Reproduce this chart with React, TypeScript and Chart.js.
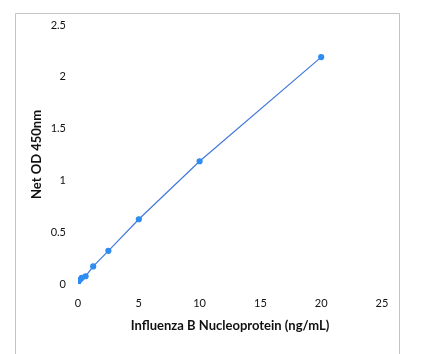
import React, { useEffect, useRef } from "react";
import { Chart, registerables } from "chart.js";

Chart.register(...registerables);

const concentrations = [0, 0.156, 0.3125, 0.625, 1.25, 2.5, 5, 10, 20];
const netOD = [0.0, 0.04, 0.06, 0.075, 0.17, 0.32, 0.625, 1.185, 2.19];
const xTicks = [0, 5, 10, 15, 20, 25];
const yTicks = [0, 0.5, 1, 1.5, 2, 2.5];
const xTitle = "Influenza B Nucleoprotein (ng/mL)";
const yTitle = "Net OD 450nm";

const FONT = "Lato, 'Open Sans', sans-serif";

const framePlugin = {
  id: "frame",
  beforeDraw(chart: any) {
    const ctx = chart.ctx;
    ctx.save();
    ctx.fillStyle = "#ffffff";
    ctx.fillRect(0, 0, chart.width, chart.height);
    ctx.strokeStyle = "#c4c4c4";
    ctx.lineWidth = 1;
    ctx.beginPath();
    ctx.moveTo(15.5, 360);
    ctx.lineTo(15.5, 13.5);
    ctx.lineTo(399.5, 13.5);
    ctx.lineTo(399.5, 360);
    ctx.stroke();
    ctx.restore();
  },
};

export default function App() {
  const ref = useRef<HTMLCanvasElement>(null);
  useEffect(() => {
    if (!ref.current) return;
    const chart = new Chart(ref.current, {
      type: "scatter",
      data: {
        datasets: [
          {
            data: concentrations.map((x, i) => ({ x, y: netOD[i] })),
            showLine: true,
            borderColor: "#4378dc",
            borderWidth: 1.2,
            backgroundColor: "#2f8cf0",
            pointBackgroundColor: "#2f8cf0",
            pointBorderColor: "#2f8cf0",
            pointRadius: 2.5,
            pointStyle: "circle",
          },
        ],
      },
      options: {
        animation: false,
        responsive: false,
        devicePixelRatio: 1,
        layout: { padding: { left: 0, right: 42, top: 25, bottom: 0 } },
        plugins: { legend: { display: false }, tooltip: { enabled: false } },
        scales: {
          x: {
            type: "linear",
            min: 0,
            max: 25,
            afterBuildTicks: (s: any) => {
              s.ticks = xTicks.map((v) => ({ value: v }));
            },
            afterFit: (s: any) => {
              s.height = 70;
            },
            grid: { display: false, drawTicks: false },
            border: { display: false },
            ticks: {
              padding: 13,
              color: "#111",
              font: { family: FONT, size: 11 },
              maxRotation: 0,
              callback: (v: any) => String(v),
            },
            title: {
              display: true,
              text: xTitle,
              color: "#111",
              font: { family: FONT, size: 13, weight: "bold" },
              padding: { top: 0, bottom: 20 },
            },
          },
          y: {
            type: "linear",
            min: 0,
            max: 2.5,
            afterBuildTicks: (s: any) => {
              s.ticks = yTicks.map((v) => ({ value: v }));
            },
            afterFit: (s: any) => {
              s.width = 78;
            },
            grid: { display: false, drawTicks: false },
            border: { display: false },
            ticks: {
              padding: 12,
              color: "#111",
              font: { family: FONT, size: 11 },
              callback: (v: any) => String(v),
            },
            title: {
              display: true,
              text: yTitle,
              color: "#111",
              font: { family: FONT, size: 13, weight: "bold" },
              padding: { top: 29, bottom: 0 },
            },
          },
        },
      },
      plugins: [framePlugin],
    } as any);
    return () => chart.destroy();
  }, []);
  return (
    <div style={{ position: "absolute", left: 0, top: 0, width: 424, height: 354 }}>
      <canvas ref={ref} width={424} height={354} style={{ width: 424, height: 354 }} />
    </div>
  );
}
